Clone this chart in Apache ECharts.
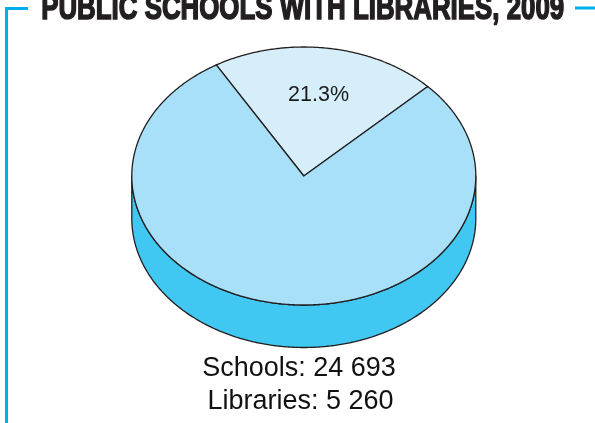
<!DOCTYPE html>
<html>
<head>
<meta charset="utf-8">
<script src="https://cdn.jsdelivr.net/npm/echarts@6/dist/echarts.min.js"></script>
<style>
  html, body { margin: 0; padding: 0; background: #ffffff; }
  #chart { width: 595px; height: 423px; }
</style>
</head>
<body>
<div id="chart"></div>
<script>
// Public schools and how many of them have a library, 2009
const titleText = 'PUBLIC SCHOOLS WITH LIBRARIES, 2009';
const categories = ['Libraries', 'Without library'];
const schoolsTotal = 24693;
const librariesTotal = 5260;
const sliceValues = [librariesTotal, schoolsTotal - librariesTotal];
const labelledSlices = [true, false];

// Styling
const sliceColors = ['#D5EEFA', '#A9E0F9'];
const sideColor = '#40C8F2';
const outline = '#231F20';
const frameBlue = '#00AEEF';

// Tilted disc layout, in pixels; angles are counter-clockwise, degrees
const disc = { cx: 303.8, cy: 176, rx: 172, ry: 129, depth: 42.5, startAngle: 120.6 };

const total = sliceValues.reduce((a, b) => a + b, 0);
const rad = d => d * Math.PI / 180;
const pt = (t, dy, f) => [
  disc.cx + (f === undefined ? 1 : f) * disc.rx * Math.cos(rad(t)),
  disc.cy - (f === undefined ? 1 : f) * disc.ry * Math.sin(rad(t)) + (dy || 0)
];
function arc(from, to, dy) {
  const pts = [];
  const n = Math.max(2, Math.ceil(Math.abs(to - from) / 0.5));
  for (let i = 0; i <= n; i++) pts.push(pt(from + (to - from) * i / n, dy));
  return pts;
}
// slices run clockwise from startAngle
function sliceRange(idx) {
  const before = sliceValues.slice(0, idx).reduce((a, b) => a + b, 0);
  const a0 = disc.startAngle - before / total * 360;
  const a1 = a0 - sliceValues[idx] / total * 360;
  return [a1, a0];
}

function renderSide(params, api) {
  const idx = params.dataIndex;
  const [lo, hi] = sliceRange(idx);
  const children = [];
  // front half of the rim: angles in [-180, 0] (mod 360)
  for (let k = -2; k <= 2; k++) {
    const s = Math.max(lo, -180 + 360 * k);
    const e = Math.min(hi, 360 * k);
    if (e > s) {
      const top = arc(s, e, 0);
      const bottom = arc(e, s, disc.depth);
      children.push({
        type: 'polygon',
        shape: { points: top.concat(bottom) },
        style: { fill: sideColor, stroke: outline, lineWidth: 1.3, lineJoin: 'round' }
      });
    }
  }
  return { type: 'group', children: children };
}

function renderTop(params, api) {
  const idx = params.dataIndex;
  const value = api.value(0);
  const [lo, hi] = sliceRange(idx);
  const points = [[disc.cx, disc.cy]].concat(arc(hi, lo, 0));
  const children = [{
    type: 'polygon',
    shape: { points: points },
    style: { fill: sliceColors[idx], stroke: outline, lineWidth: 1.3, lineJoin: 'round' }
  }];
  if (labelledSlices[idx]) {
    const mid = (lo + hi) / 2;
    const p = pt(mid, 0, 0.635);
    children.push({
      type: 'text',
      x: p[0], y: p[1],
      style: {
        text: (value / schoolsTotal * 100).toFixed(1) + '%',
        font: '21.5px "Liberation Sans", Arial, sans-serif',
        fill: '#1a1a1a', align: 'center', verticalAlign: 'middle'
      }
    });
  }
  return { type: 'group', children: children };
}

const fmt = n => String(n).replace(/\B(?=(\d{3})+(?!\d))/g, ' ');

// Condensed heading: measure a bold face and squeeze it horizontally
const titleFont = 'bold 35px "Liberation Sans", Arial, sans-serif';
const measureCtx = document.createElement('canvas').getContext('2d');
measureCtx.font = titleFont;
const titleWidth = measureCtx.measureText(titleText).width;
const titleScale = 523 / titleWidth;

const seriesData = sliceValues.map((v, i) => ({ name: categories[i], value: v }));

const chart = echarts.init(document.getElementById('chart'), null, { renderer: 'canvas' });
chart.setOption({
  animation: false,
  backgroundColor: '#ffffff',
  series: [
    { type: 'custom', coordinateSystem: 'none', data: seriesData, renderItem: renderSide, z: 1, silent: true },
    { type: 'custom', coordinateSystem: 'none', data: seriesData, renderItem: renderTop, z: 2, silent: true }
  ],
  graphic: { elements: [
    { type: 'polyline', shape: { points: [[6.5, 423], [6.5, 8.5], [28, 8.5]] },
      style: { stroke: frameBlue, lineWidth: 3, fill: null } },
    { type: 'line', shape: { x1: 575, y1: 8, x2: 595, y2: 8 },
      style: { stroke: frameBlue, lineWidth: 3 } },
    { type: 'text', x: 41.2, y: 9, scaleX: titleScale,
      style: { text: titleText, font: titleFont, fill: '#231F20', stroke: '#231F20', lineWidth: 1.6,
               align: 'left', verticalAlign: 'middle' } },
    { type: 'text', x: 299, y: 368.5,
      style: { text: 'Schools: ' + fmt(schoolsTotal), font: '27px "Liberation Sans", Arial, sans-serif',
               fill: '#111111', align: 'center', verticalAlign: 'middle' } },
    { type: 'text', x: 300.5, y: 402,
      style: { text: 'Libraries: ' + fmt(librariesTotal), font: '27px "Liberation Sans", Arial, sans-serif',
               fill: '#111111', align: 'center', verticalAlign: 'middle' } }
  ] }
});
</script>
</body>
</html>
